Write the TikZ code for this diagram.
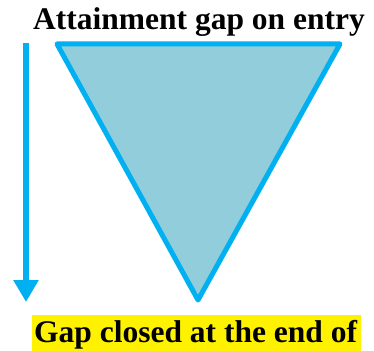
\documentclass[tikz,border=0pt]{standalone}
\usepackage{fontspec}
\setmainfont{Liberation Serif}
\usetikzlibrary{arrows.meta}
\definecolor{cyanline}{RGB}{0,176,240}
\definecolor{trifill}{RGB}{146,205,220}
\begin{document}
\begin{tikzpicture}[x=1pt,y=-1pt,
  title/.style={font=\fontsize{31.5}{34}\selectfont\bfseries, inner sep=0pt, anchor=base west},
  tri/.style={draw=cyanline, fill=trifill, line width=5pt, line join=round},
  downarrow/.style={draw=cyanline, line width=6pt, -{Triangle[width=24pt,length=22pt]}}]
\useasboundingbox (0,0) rectangle (374,350);
\clip (0,0) rectangle (374,350);
\coordinate (tl) at (57,44);
\coordinate (tr) at (340,44);
\coordinate (bt) at (198,300);
\filldraw[tri] (tl) -- (tr) -- (bt) -- cycle;
\coordinate (as) at (26,43);
\coordinate (ae) at (26,302);
\draw[downarrow] (as) -- (ae);
\node[title] (top) at (33,30) {Attainment gap on entry};
\fill[yellow] (32,315) rectangle (361,352);
\node[title] (bottom) at (34,342) {Gap closed at the end of};
\end{tikzpicture}
\end{document}
